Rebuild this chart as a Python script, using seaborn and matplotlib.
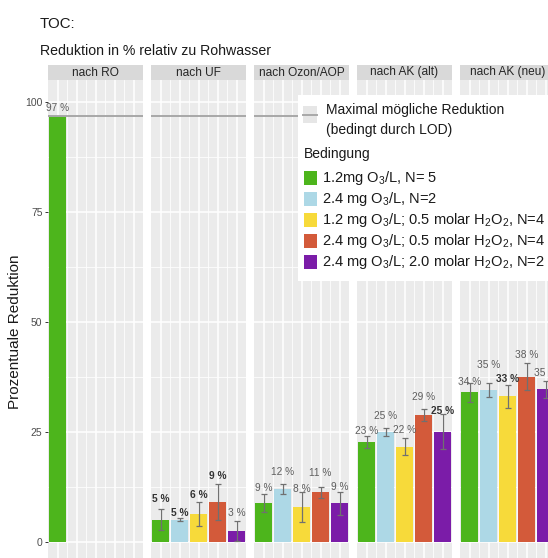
import numpy as np
import pandas as pd
import matplotlib
matplotlib.use("Agg")
import matplotlib.pyplot as plt
import seaborn as sns
from matplotlib.patches import Rectangle

# ---- data -------------------------------------------------------------
stages = ["nach RO", "nach UF", "nach Ozon/AOP", "nach AK (alt)", "nach AK (neu)"]
conditions = [
    r"1.2mg O$_3$/L, N= 5",
    r"2.4 mg O$_3$/L, N=2",
    r"1.2 mg O$_3$/L; 0.5 molar H$_2$O$_2$, N=4",
    r"2.4 mg O$_3$/L; 0.5 molar H$_2$O$_2$, N=4",
    r"2.4 mg O$_3$/L; 2.0 molar H$_2$O$_2$, N=2",
]
colors = ["#4DB51C", "#ADD8E6", "#F7DA3A", "#D35A3A", "#7B1CA8"]

mean_ro = [97.0]
sd_ro = [0.0]
bold_ro = [False]

mean_uf = [5.2, 5.2, 6.4, 9.3, 2.6]
sd_uf = [2.4, 0.3, 2.7, 4.1, 2.3]
bold_uf = [True, True, True, True, False]

mean_ozon = [9.0, 12.2, 8.0, 11.4, 8.9]
sd_ozon = [2.0, 1.2, 3.4, 1.3, 2.6]
bold_ozon = [False, False, False, False, False]

mean_ak_alt = [22.8, 25.2, 21.8, 28.9, 25.2]
sd_ak_alt = [1.4, 0.9, 2.0, 1.4, 4.0]
bold_ak_alt = [False, False, False, False, True]

mean_ak_neu = [34.1, 34.7, 33.2, 37.7, 34.8]
sd_ak_neu = [2.1, 1.6, 2.7, 3.0, 2.0]
bold_ak_neu = [False, False, True, False, False]

max_reduction = 97.0

means = [mean_ro, mean_uf, mean_ozon, mean_ak_alt, mean_ak_neu]
sds = [sd_ro, sd_uf, sd_ozon, sd_ak_alt, sd_ak_neu]
bolds = [bold_ro, bold_uf, bold_ozon, bold_ak_alt, bold_ak_neu]

rows = []
for stage, m_list, s_list, b_list in zip(stages, means, sds, bolds):
    for cond, m, s, b in zip(conditions, m_list, s_list, b_list):
        rows.append({"stage": stage, "cond": cond, "mean": m, "sd": s, "bold": b})
df = pd.DataFrame(rows)

# ---- style --------------------------------------------------------------
plt.rcParams["font.family"] = ["Liberation Sans", "DejaVu Sans"]
plt.rcParams["mathtext.fontset"] = "custom"
plt.rcParams["mathtext.rm"] = "Liberation Sans"
plt.rcParams["mathtext.it"] = "Liberation Sans:italic"
plt.rcParams["mathtext.bf"] = "Liberation Sans:bold"

W, H = 548, 558
fig = plt.figure(figsize=(W / 100, H / 100), dpi=100)
fig.patch.set_facecolor("white")


def px_axes(left, top, width, height, **kw):
    return fig.add_axes([left / W, 1 - (top + height) / H, width / W, height / H], **kw)


def spread_labels(desired, sep, n_iter=6):
    """Push neighbouring value labels apart vertically so they do not collide."""
    y = list(desired)
    for _ in range(n_iter):
        for j in range(len(y) - 1):
            if abs(y[j + 1] - y[j]) < sep:
                mid = (y[j] + y[j + 1]) / 2
                sign = 1 if y[j + 1] >= y[j] else -1
                y[j] = mid - sign * sep / 2
                y[j + 1] = mid + sign * sep / 2
    return y


palette = dict(zip(conditions, colors))
panel_lefts = [48, 151, 254, 357, 460]
panel_w = 95
panel_top = 80
panel_h = 484.5
strip_h = 15

for i, stage in enumerate(stages):
    ax = px_axes(panel_lefts[i], panel_top, panel_w, panel_h)
    ax.set_facecolor("#EBEBEB")
    sub = df[df["stage"] == stage]
    sns.barplot(data=sub, x="cond", y="mean", hue="cond", order=conditions,
                hue_order=conditions, palette=palette, width=0.9, errorbar=None,
                legend=False, saturation=1, ax=ax, zorder=2)
    xs = [conditions.index(c) for c in sub["cond"]]
    m_arr = sub["mean"].to_numpy()
    s_arr = sub["sd"].to_numpy()
    has_err = s_arr > 0
    if has_err.any():
        ax.errorbar(np.array(xs)[has_err], m_arr[has_err], yerr=s_arr[has_err], fmt="none",
                    ecolor="#707070", elinewidth=0.9, capsize=2, capthick=0.9, zorder=3)
    label_y = spread_labels(m_arr + s_arr + 1.8, sep=3.2)
    for x, ly, (_, r) in zip(xs, label_y, sub.iterrows()):
        ax.text(x, ly, f"{r['mean']:.0f} %", ha="center", va="center",
                fontsize=7.3, color="#333333" if r["bold"] else "#5E5E5E",
                fontweight="bold" if r["bold"] else "normal", zorder=4)
    ax.axhline(max_reduction, color="#A8A8A8", lw=1.4, zorder=2.5)

    ax.set_xlim(-0.5, 4.5)
    ax.set_ylim(-5.0, 105.1)
    ax.set_yticks([0, 25, 50, 75, 100])
    ax.set_yticks([12.5, 37.5, 62.5, 87.5], minor=True)
    ax.set_xticks(range(5))
    ax.set_xticks([0.5, 1.5, 2.5, 3.5], minor=True)
    ax.grid(which="major", color="white", lw=1.1)
    ax.grid(which="minor", color="white", lw=0.55)
    ax.set_axisbelow(True)
    for sp in ax.spines.values():
        sp.set_visible(False)
    ax.set_xlabel("")
    ax.set_ylabel("")
    ax.set_xticklabels([])
    ax.tick_params(axis="x", which="both", length=0)
    ax.tick_params(axis="y", which="minor", length=0)
    if i == 0:
        ax.tick_params(axis="y", which="major", length=2.5, width=0.7, color="#333333",
                       labelsize=7.5, labelcolor="#4D4D4D", pad=1.5)
    else:
        ax.tick_params(axis="y", which="major", length=0, labelleft=False)

    strip = px_axes(panel_lefts[i], panel_top - strip_h, panel_w, strip_h)
    strip.set_facecolor("#D9D9D9")
    strip.set_xticks([])
    strip.set_yticks([])
    for sp in strip.spines.values():
        sp.set_visible(False)
    strip.text(0.5, 0.5, stage, ha="center", va="center", fontsize=8.6,
               color="#262626", transform=strip.transAxes)

# titles
fig.text(40 / W, 1 - 28 / H, "TOC:", fontsize=10.8, color="#1A1A1A", va="baseline")
fig.text(40 / W, 1 - 55 / H, "Reduktion in % relativ zu Rohwasser", fontsize=10.2,
         color="#1A1A1A", va="baseline")
fig.text(15 / W, 1 - 332 / H, "Prozentuale Reduktion", rotation=90, ha="center",
         va="center", fontsize=11, color="#1A1A1A")

# legend drawn in pixel coordinates on an overlay
leg = fig.add_axes([0, 0, 1, 1], zorder=10)
leg.set_xlim(0, W)
leg.set_ylim(H, 0)
leg.axis("off")
leg.add_patch(Rectangle((298, 95), 270, 186, facecolor="white", edgecolor="none"))
leg.add_patch(Rectangle((303, 106), 14, 17, facecolor="#E6E6E6", edgecolor="none"))
leg.plot([303, 317], [114.5, 114.5], color="#A8A8A8", lw=1.4)
leg.text(326, 110, "Maximal mögliche Reduktion", va="center", fontsize=10, color="#1A1A1A")
leg.text(326, 130, "(bedingt durch LOD)", va="center", fontsize=10, color="#1A1A1A")
leg.text(304, 154, "Bedingung", va="center", fontsize=10, color="#1A1A1A")
for k, (cond, col) in enumerate(zip(conditions, colors)):
    y = 178 + 21 * k
    leg.add_patch(Rectangle((304, y - 7), 13, 14, facecolor=col, edgecolor="none"))
    leg.text(322, y, cond, va="center", fontsize=10.5, color="#1A1A1A")

fig.savefig("out.png", dpi=100)
